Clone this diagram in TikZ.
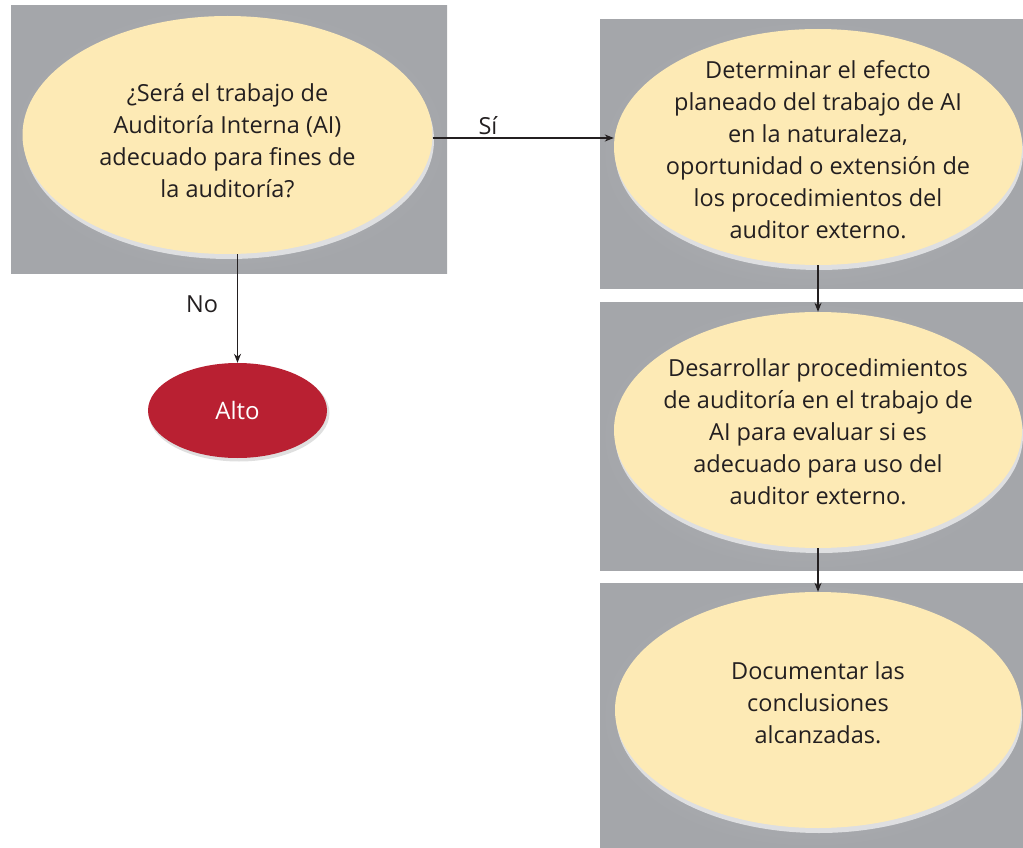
\documentclass[tikz,border=0pt]{standalone}
\usepackage{fontspec}
\setmainfont{Open Sans}
\usetikzlibrary{shapes.geometric,arrows.meta}
\definecolor{boxgray}{RGB}{164,166,170}
\definecolor{boxlight}{RGB}{186,187,190}
\definecolor{ellyellow}{RGB}{253,234,181}
\definecolor{rimgray}{RGB}{222,223,225}
\definecolor{altored}{RGB}{185,32,50}
\definecolor{txt}{RGB}{35,31,32}
\tikzset{
  panel/.style={inner color=boxlight, outer color=boxgray, draw=none},
  bubble/.style={ellipse, fill=ellyellow, draw=none, inner sep=0pt},
  btext/.style={inner sep=0pt, text=txt, align=center, font=\fontsize{23.5}{32}\selectfont},
  rim/.style={ellipse, fill=rimgray, draw=none, inner sep=0pt},
  stopnode/.style={ellipse, fill=altored, draw=none, inner sep=0pt, text=white,
    font=\fontsize{24}{32}\selectfont},
  conn/.style={line width=1.1pt, draw=txt, -{Stealth[length=9pt,width=7pt]}},
  lbl/.style={text=txt, font=\fontsize{23.5}{32}\selectfont}
}
\begin{document}
\begin{tikzpicture}[x=1pt,y=-1pt]
\useasboundingbox (0,0) rectangle (1023,848);
% panels
\fill[panel] (11,6) rectangle (447,273);
\fill[panel] (600,20) rectangle (1023,288);
\fill[panel] (600,302) rectangle (1023,570);
\fill[panel] (600,583) rectangle (1023,848);
% rims
\node[rim, minimum width=410pt, minimum height=238pt] at (229,140) {};
\node[rim, minimum width=408pt, minimum height=236pt] at (819,152) {};
\node[rim, minimum width=408pt, minimum height=236pt] at (819,435) {};
\node[rim, minimum width=406pt, minimum height=236pt] at (819,715) {};
% ellipses
\node[bubble, minimum width=410pt, minimum height=238pt] (e1) at (227.5,135) {};
\node[bubble, minimum width=408pt, minimum height=236pt] (e2) at (818,147) {};
\node[bubble, minimum width=408pt, minimum height=236pt] (e3) at (818,430) {};
\node[bubble, minimum width=406pt, minimum height=236pt] (e4) at (818,710) {};
\node[btext] (t1) at (227.5,141)
  {¿Será el trabajo de\\Auditoría Interna (AI)\\adecuado para fines de\\la auditoría?};
\node[btext] (t2) at (818,150)
  {Determinar el efecto\\planeado del trabajo de AI\\en la naturaleza,\\oportunidad o extensión de\\los procedimientos del\\auditor externo.};
\node[btext] (t3) at (818,432)
  {Desarrollar procedimientos\\de auditoría en el trabajo de\\AI para evaluar si es\\adecuado para uso del\\auditor externo.};
\node[btext] (t4) at (818,703)
  {Documentar las\\conclusiones\\alcanzadas.};
% Alto
\node[ellipse, fill=gray!25, draw=none, minimum width=181pt, minimum height=97pt] at (239,413) {};
\node[stopnode, minimum width=179pt, minimum height=95pt] (alto) at (237.5,410.5) {Alto};
% connectors
\draw[conn] (e1.east |- 0,138) -- (e2.west |- 0,138) coordinate (sitip);
\coordinate (nostart) at (alto.north |- e1.south);
\draw[conn] (nostart) -- (alto.north);
\draw[conn] (e2.south) -- (e3.north);
\draw[conn] (e3.south) -- (e4.north);
% labels
\node[lbl] (si) at (488,126) {Sí};
\node[lbl] (no) at (202,304) {No};
\end{tikzpicture}
\end{document}
